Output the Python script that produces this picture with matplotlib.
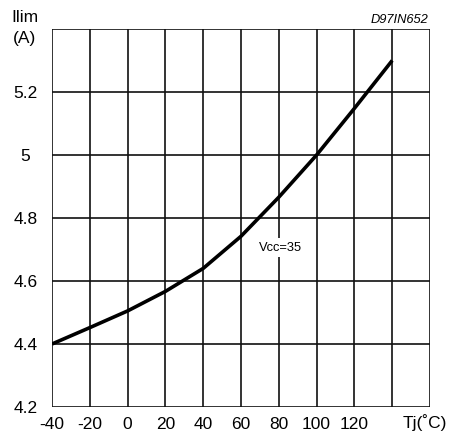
import matplotlib
matplotlib.use("Agg")
import matplotlib.pyplot as plt

# Current limit vs junction temperature
tj = [-40, -20, 0, 20, 40, 60, 80, 100, 120, 140]
ilim = [4.40, 4.452, 4.505, 4.567, 4.64, 4.742, 4.866, 5.00, 5.148, 5.30]

x_ticks = [-40, -20, 0, 20, 40, 60, 80, 100, 120]
x_grid = [-40, -20, 0, 20, 40, 60, 80, 100, 120, 140, 160]
y_ticks = [4.2, 4.4, 4.6, 4.8, 5.0, 5.2]
y_labels = ["4.2", "4.4", "4.6", "4.8", "5", "5.2"]
y_grid = [4.2, 4.4, 4.6, 4.8, 5.0, 5.2, 5.4]

plt.rcParams['font.family'] = ['Liberation Sans', 'DejaVu Sans']

fig = plt.figure(figsize=(4.52, 4.40), dpi=100)
ax = fig.add_axes([52 / 452, 33 / 440, 378 / 452, 378 / 440])
ax.set_xlim(-40, 160)
ax.set_ylim(4.2, 5.4)

for gx in x_grid:
    ax.axvline(gx, color="#111111", lw=1.2, zorder=1)
for gy in y_grid:
    ax.axhline(gy, color="#111111", lw=1.2, zorder=1)

ax.plot(tj, ilim, color="black", lw=2.6, solid_capstyle="butt",
        solid_joinstyle="round", zorder=3)

for s in ax.spines.values():
    s.set_visible(False)

ax.set_xticks(x_ticks)
ax.set_xticklabels([str(v) for v in x_ticks], fontsize=12.5)
ax.set_yticks(y_ticks)
ax.set_yticklabels(y_labels, fontsize=12.5, ha="center")
ax.tick_params(axis="x", length=0, pad=7)
ax.tick_params(axis="y", length=0, pad=19)

ax.text(81, 4.705, "Vcc=35", fontsize=9.3, ha="center", va="center", zorder=4,
        bbox=dict(facecolor="white", edgecolor="none", pad=2.5))

fig.text(25 / 452, 1 - 17 / 440, "Ilim", fontsize=12.5, ha="center", va="center")
fig.text(25 / 452, 1 - 39 / 440, "(A)", fontsize=12.5, ha="center", va="center")
fig.text(428 / 452, 1 - 20 / 440, "D97IN652", fontsize=9.3, style="italic",
         ha="right", va="center")
fig.text(425 / 452, 1 - 423 / 440, "Tj(˚C)", fontsize=12.5, ha="center", va="center")

fig.savefig("out.png", dpi=100, facecolor="white")
